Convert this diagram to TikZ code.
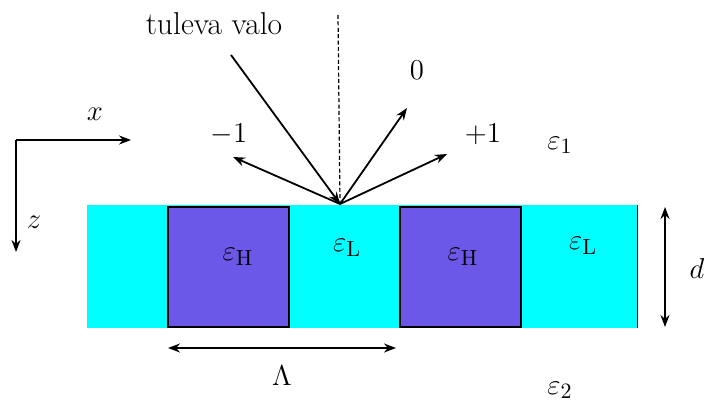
\documentclass[tikz,border=0pt]{standalone}
\usepackage{tikz}
\usetikzlibrary{arrows.meta, positioning}

\definecolor{lowcol}{RGB}{0,255,255}
\definecolor{highcol}{RGB}{108,88,232}

\begin{document}
\begin{tikzpicture}[
  x=0.5pt, y=-0.5pt,
  lbl/.style   = {inner sep=1pt, font=\fontsize{15.8}{18}\selectfont},
  arr/.style   = {-{Stealth[length=6pt, width=4.5pt]}, line width=0.9pt},
  darr/.style  = {{Stealth[length=6pt, width=4.5pt]}-{Stealth[length=6pt, width=4.5pt]}, line width=0.9pt},
  lowbar/.style  = {fill=lowcol},
  highbar/.style = {fill=highcol, draw=black, line width=0.9pt}
]
  \useasboundingbox (0,0) rectangle (704,406);

  %% Grating layer
  \fill[lowbar] (87,205) rectangle (637,328);
  \filldraw[highbar] (168,207) rectangle (289,327);
  \filldraw[highbar] (400,207) rectangle (521,327);
  \draw[line width=0.5pt] (637,205) -- (637,328);

  \node[lbl] (eh1) at (238,257) {$\varepsilon_{\mathrm{H}}$};
  \node[lbl] (el1) at (347,248) {$\varepsilon_{\mathrm{L}}$};
  \node[lbl] (eh2) at (463,257) {$\varepsilon_{\mathrm{H}}$};
  \node[lbl] (el2) at (583,246) {$\varepsilon_{\mathrm{L}}$};
  \node[lbl] (eps1) at (560,145) {$\varepsilon_1$};
  \node[lbl] (eps2) at (560,390) {$\varepsilon_2$};

  %% Thickness and period
  \coordinate (dtop) at (665,207);
  \coordinate (dbot) at (665,327);
  \draw[darr] (dtop) -- (dbot);
  \node[lbl] (d) at (697,268) {$d$};

  \coordinate (pl) at (168,348);
  \coordinate (pr) at (396,348);
  \draw[darr] (pl) -- (pr);
  \node[lbl] (per) at (282,376) {$\Lambda$};

  %% Axes
  \coordinate (ax) at (16,140);
  \coordinate (axx) at (131,140);
  \coordinate (axz) at (16,252);
  \draw[arr] (ax) -- (axx);
  \draw[arr] (ax) -- (axz);
  \node[lbl] (xl) at (95,114) {$x$};
  \node[lbl] (zl) at (34,222) {$z$};

  %% Incident and diffracted light
  \coordinate (hit) at (340,204);
  \coordinate (src) at (231,55);
  \coordinate (top) at (338,15);
  \draw[line width=0.6pt, dash pattern=on 2pt off 1.2pt] (top) -- (hit);
  \draw[arr] (src) -- (hit);
  \node[lbl] (inc) at (214,24) {tuleva valo};

  \coordinate (m1) at (233,157);
  \coordinate (o0) at (407,108);
  \coordinate (p1) at (447,154);
  \draw[arr] (hit) -- (m1);
  \draw[arr] (hit) -- (o0);
  \draw[arr] (hit) -- (p1);
  \node[lbl] (lm1) at (229,134) {$-1$};
  \node[lbl] (l0)  at (417,70)  {$0$};
  \node[lbl] (lp1) at (483,134) {$+1$};
\end{tikzpicture}
\end{document}
